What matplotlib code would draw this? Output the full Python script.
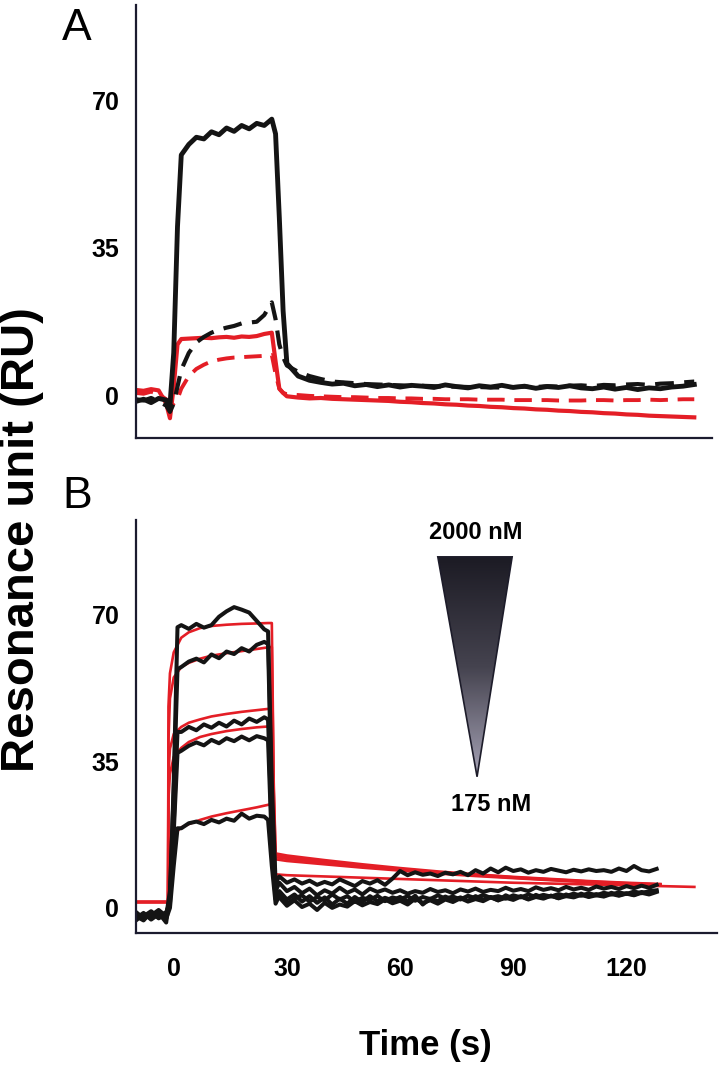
import matplotlib
matplotlib.use("Agg")
import matplotlib.pyplot as plt
import numpy as np
from matplotlib.patches import Polygon
from matplotlib.colors import LinearSegmentedColormap

plt.rcParams['font.family'] = ['Liberation Sans', 'DejaVu Sans']

# ---- panel A: one time grid, four sensorgrams ----
tA = [-10, -8, -6, -4, -2, -1, 0, 1, 2, 4, 6, 8, 10, 12, 14, 16, 18, 20, 22, 24, 26,
      27, 28, 29] + list(range(30, 139, 3))

a_black = [-1.5, -1.0, -1.8, -0.8, -1.2, -2.5, 10, 40, 57,
           59.5, 61.2, 60.8, 62.5, 61.8, 63.4, 62.6, 64, 63.2, 64.5, 64.0, 65.5, 62, 42, 20,
           7.5, 4.5, 3.5, 3.0, 2.6, 2.8, 2.2, 2.5, 2.0, 2.4,
           1.9, 2.3, 2.1, 1.8, 2.4, 2.0, 1.7, 2.2, 1.9, 2.3,
           1.8, 2.1, 1.6, 2.0, 1.8, 2.2, 1.7, 1.5, 1.9, 1.4,
           1.8, 1.3, 1.7, 1.5, 1.9, 2.1, 2.5]
a_black_dash = [-1.0, -1.3, -0.7, -1.5, -2.5, -4.0, -2, 2, 6,
                10, 12.5, 13.8, 14.8, 15.5, 16, 16.4, 17, 17.2, 17.4, 19, 22, 18, 12, 9,
                7.0, 5.5, 4.5, 3.8, 3.2, 3.0, 2.8, 2.6, 2.5, 2.4,
                2.3, 2.2, 2.2, 2.1, 2.0, 2.0, 1.9, 1.9, 1.8, 1.8,
                1.9, 2.0, 1.9, 2.1, 2.0, 2.2, 2.3, 2.1, 2.4, 2.3,
                2.5, 2.6, 2.4, 2.7, 2.8, 3.0, 3.2]
a_red = [1.2, 1.0, 1.4, 1.1, -2.0, -5.5, 2, 12, 13.3,
         13.4, 13.5, 13.6, 13.5, 13.7, 13.8, 13.6, 13.9, 13.8, 14.0, 14.5, 14.8, 8, 1.5, 0.5,
         -0.3, -0.6, -0.8, -0.7, -0.9, -1.0, -1.1, -1.2, -1.3, -1.4,
         -1.6, -1.7, -1.9, -2.0, -2.2, -2.3, -2.5, -2.6, -2.8, -2.9,
         -3.1, -3.2, -3.4, -3.5, -3.7, -3.8, -4.0, -4.1, -4.3, -4.4,
         -4.6, -4.7, -4.9, -5.0, -5.1, -5.2, -5.3]
a_red_dash = [0.5, 0.3, 0.8, 0.2, -1.0, -2.5, -2.0, -1.0, 1.5,
              4.5, 6.2, 7.2, 8.0, 8.4, 8.7, 8.9, 9.0, 9.1, 9.2, 9.3, 9.5, 5, 1.5, 0.5,
              0.2, 0.0, -0.2, -0.3, -0.4, -0.5, -0.5, -0.6, -0.7, -0.7,
              -0.8, -0.8, -0.9, -0.9, -1.0, -1.0, -1.0, -1.1, -1.1, -1.1,
              -1.2, -1.2, -1.2, -1.2, -1.3, -1.3, -1.3, -1.2, -1.2, -1.3,
              -1.2, -1.2, -1.1, -1.2, -1.1, -1.0, -1.0]

# ---- panel B: five measured traces + five fits ----
tB = [-10, -8, -6, -4, -2, -1, 0, 1, 2, 4, 6, 8, 10, 12, 14, 16, 18, 20, 22, 24,
      25, 26, 27] + list(range(28, 129, 2))

b1 = [-2.0, -3.0, -1.0, -2.5, -1.5, 2.0, 30, 67,
      67.5, 66.6, 67.8, 66.9, 67.5, 69.5, 70.8, 71.8, 71.2, 70.5, 68.5, 66.5, 66, 30, 6,
      7.5, 6.0, 6.8, 5.8, 6.5, 5.5, 6.2, 5.6, 6.8, 6.0,
      5.2, 6.4, 5.8, 6.6, 5.5, 7.0, 8.8, 7.8, 8.5, 7.9,
      8.2, 7.6, 8.4, 8.0, 8.6, 7.8, 9.0, 8.2, 9.4, 8.5,
      9.6, 8.8, 9.2, 8.4, 9.0, 8.6, 9.3, 8.9, 8.5, 9.1,
      8.7, 9.2, 8.8, 9.0, 8.6, 9.4, 8.8, 10.0, 9.0, 8.7,
      9.3]
b2 = [-1.0, -2.5, -1.8, -0.5, -2.0, 4.0, 28, 57,
      57.5, 58.8, 59.5, 58.6, 60.5, 59.6, 61.2, 60.6, 62.0, 61.2, 62.8, 63.5, 63, 25, 4,
      6.0, 4.0, 5.0, 3.5, 4.6, 3.0, 4.2, 3.4, 4.8, 3.6,
      4.4, 3.2, 4.6, 3.8, 4.4, 3.6, 4.2, 3.4, 4.0, 3.6,
      4.5, 3.8, 4.2, 3.5, 4.4, 3.9, 4.6, 3.8, 4.3, 4.0,
      4.8, 4.1, 4.5, 4.0, 4.9, 4.3, 4.7, 4.2, 5.0, 4.4,
      4.8, 4.3, 5.1, 4.6, 5.0, 4.5, 5.2, 4.7, 5.3, 4.8,
      5.5]
b3 = [-3.0, -1.5, -2.5, -1.2, -3.5, 3.0, 20, 42,
      42.0, 43.2, 42.4, 43.8, 43.0, 44.2, 43.3, 44.7, 43.8, 45.2, 44.4, 45.5, 45, 18, 3,
      4.0, 2.0, 3.2, 1.5, 2.8, 1.2, 2.5, 0.8, 2.2, 1.0,
      2.6, 1.4, 2.8, 1.6, 2.4, 1.8, 2.6, 1.5, 2.9, 0.8,
      2.2, 1.6, 2.7, 1.9, 2.5, 1.7, 2.8, 2.0, 2.6, 1.8,
      3.0, 2.2, 2.8, 2.1, 3.1, 2.4, 2.9, 2.3, 3.2, 2.6,
      3.4, 2.7, 3.3, 2.8, 3.6, 3.0, 3.5, 3.1, 3.8, 3.4,
      4.0]
b4 = [-1.5, -2.0, -0.8, -2.2, -1.0, 1.0, 18, 37,
      37.5, 38.7, 39.5, 38.8, 40.1, 39.3, 40.5, 39.8, 40.9, 40.0, 41.0, 40.5, 40, 15, 2,
      2.5, 0.5, 1.8, 0.2, 1.0, -0.5, 1.2, 0.0, 0.8, 0.3,
      1.6, 0.6, 1.4, 0.9, 2.0, 1.1, 1.7, 0.8, 2.2, 1.2,
      1.8, 1.0, 2.0, 1.4, 2.3, 1.5, 2.1, 1.6, 2.5, 1.8,
      2.4, 1.9, 2.7, 2.0, 2.6, 2.2, 2.9, 2.3, 2.8, 2.5,
      3.1, 2.6, 3.0, 2.7, 3.3, 2.9, 3.4, 3.0, 3.6, 3.2,
      3.8]
b5 = [-2.5, -1.2, -2.8, -1.5, -2.6, 0.0, 10, 19,
      19.0, 20.2, 20.6, 20.0, 21.0, 20.4, 21.3, 20.8, 22.5, 21.3, 22.0, 21.8, 21, 10, 1,
      3.0, 1.0, 2.2, 3.0, 1.5, 2.6, 1.8, 3.2, 2.0, 2.8,
      1.4, 2.4, 1.9, 2.9, 1.6, 2.5, 2.0, 2.8, 1.7, 2.6,
      2.1, 3.0, 2.2, 2.7, 2.0, 2.9, 2.3, 3.1, 2.4, 2.8,
      2.2, 3.0, 2.5, 3.2, 2.6, 3.1, 2.7, 3.3, 2.8, 3.4,
      2.9, 3.5, 3.0, 3.6, 3.2, 3.7, 3.3, 3.9, 3.5, 4.0,
      4.2]

# fitted curves
tR = [-10, -1.5, -1.4, -1, 0, 2, 4, 7, 10, 14, 18, 22, 25, 26, 26.5, 27,
      30, 40, 50, 60, 70, 80, 90, 100, 110, 120, 129]
tR5 = [-10, -1.5, -1.4, -1, 0, 2, 4, 7, 10, 14, 18, 22, 25, 26, 26.5, 27,
       30, 40, 50, 60, 70, 80, 90, 100, 110, 120, 138]
r1 = [1.4, 1.4, 48, 56, 61, 64.5, 65.8, 66.8, 67.3, 67.6, 67.8, 67.9, 68.0, 68.0, 30, 13.0,
      12.5, 11.4, 10.4, 9.5, 8.7, 8.0, 7.4, 6.9, 6.4, 6.0, 5.7]
r2 = [1.4, 1.4, 40, 50, 55, 57.5, 58.5, 59.5, 60.2, 60.8, 61.3, 61.8, 62.2, 62.3, 28, 12.6,
      12.1, 11.1, 10.1, 9.3, 8.5, 7.9, 7.3, 6.8, 6.3, 5.9, 5.6]
r3 = [1.4, 1.4, 32, 38, 41.5, 43.2, 44.2, 45.0, 45.7, 46.3, 46.8, 47.2, 47.5, 47.6, 20, 12.1,
      11.7, 10.8, 9.9, 9.1, 8.4, 7.8, 7.2, 6.7, 6.2, 5.8, 5.5]
r4 = [1.4, 1.4, 26, 32, 36, 38.2, 39.6, 40.8, 41.5, 42.2, 42.7, 43.1, 43.3, 43.4, 18, 11.6,
      11.2, 10.4, 9.6, 8.9, 8.2, 7.6, 7.1, 6.6, 6.1, 5.7, 5.4]
r5 = [1.4, 1.4, 12, 15.5, 17.5, 19.2, 20.0, 21.0, 21.8, 22.6, 23.3, 24.0, 24.6, 24.8, 12, 8.0,
      7.8, 7.5, 7.2, 6.9, 6.6, 6.3, 6.0, 5.8, 5.6, 5.4, 5.0]

conc_hi = '2000 nM'
conc_lo = '175 nM'

BLACK = '#141414'
RED = '#e41e26'
SPINE = '#1b1b2f'

W, H = 721, 1071
fig = plt.figure(figsize=(W / 100, H / 100), dpi=100)
axA = fig.add_axes([136 / W, 1 - 438 / H, (712 - 136) / W, (438 - 5) / H])
axB = fig.add_axes([136 / W, 1 - 933 / H, (717 - 136) / W, (933 - 520) / H])


def style(ax, xlim, ylim, xlabels):
    ax.set_xlim(xlim)
    ax.set_ylim(ylim)
    for s in ['top', 'right']:
        ax.spines[s].set_visible(False)
    for s in ['left', 'bottom']:
        ax.spines[s].set_color(SPINE)
        ax.spines[s].set_linewidth(1.6)
    ax.set_yticks([0, 35, 70])
    ax.set_yticklabels(['0', '35', '70'], fontsize=18, fontweight='bold')
    ax.tick_params(axis='y', length=0, pad=12)
    if xlabels:
        ax.set_xticks([0, 30, 60, 90, 120])
        ax.set_xticklabels(['0', '30', '60', '90', '120'], fontsize=18, fontweight='bold')
        ax.tick_params(axis='x', length=0, pad=17)
    else:
        ax.set_xticks([])


# panel A
axA.plot(tA, a_red_dash, color=RED, lw=2.8, dashes=(4.5, 2.5))
axA.plot(tA, a_red, color=RED, lw=3.0)
axA.plot(tA, a_black_dash, color=BLACK, lw=3.0, dashes=(4.5, 2.5))
axA.plot(tA, a_black, color=BLACK, lw=3.5)
style(axA, (-10, 142.7), (-10.2, 92.6), False)

# panel B
for r in [r1, r2, r3, r4]:
    axB.plot(tR, r, color=RED, lw=1.9)
axB.plot(tR5, r5, color=RED, lw=1.9)
for b in [b1, b2, b3, b4, b5]:
    axB.plot(tB, b, color=BLACK, lw=2.9)
style(axB, (-10, 144), (-6, 92.6), True)

# concentration wedge
tri = Polygon([[70, 83.8], [89.7, 83.8], [80.4, 31.3]], closed=True,
              facecolor='none', edgecolor='#1d1c2a', lw=1.2, zorder=4)
axB.add_patch(tri)
cmap = LinearSegmentedColormap.from_list('wedge', ['#1c1b24', '#45434f', '#a6a3b6'])
grad = np.linspace(0, 1, 256).reshape(-1, 1)
im = axB.imshow(grad, cmap=cmap, aspect='auto', extent=[70, 89.7, 31.3, 83.8],
                origin='upper', zorder=3)
im.set_clip_path(tri)
axB.set_xlim(-10, 144)
axB.set_ylim(-6, 92.6)
axB.text(80, 89.5, conc_hi, ha='center', va='center', fontsize=17, fontweight='bold')
axB.text(84, 24.6, conc_lo, ha='center', va='center', fontsize=17, fontweight='bold')

# labels
fig.text(77 / W, 1 - 28 / H, 'A', ha='center', va='center', fontsize=32)
fig.text(77 / W, 1 - 497 / H, 'B', ha='center', va='center', fontsize=32)
fig.text(22 / W, 1 - 540 / H, 'Resonance unit (RU)', rotation=90, ha='center',
         va='center', fontsize=34, fontweight='bold')
fig.text(425 / W, 1 - 1045 / H, 'Time (s)', ha='center', va='center', fontsize=25,
         fontweight='bold')

fig.savefig('out.png', dpi=100)
